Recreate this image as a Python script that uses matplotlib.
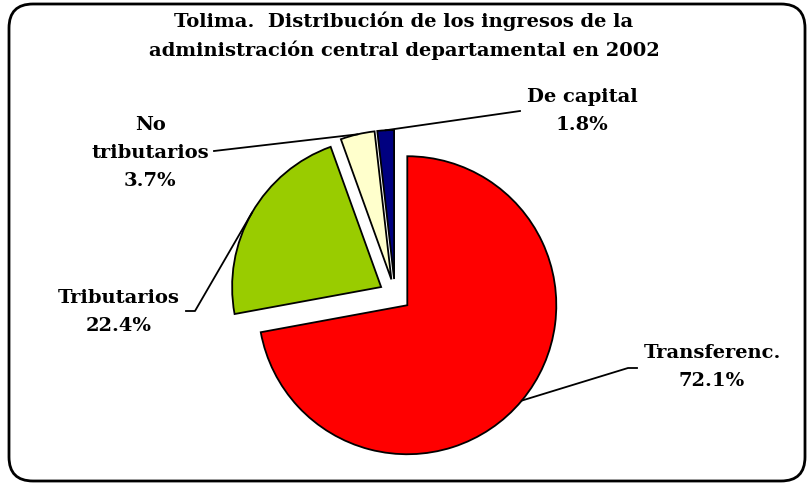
import numpy as np
import matplotlib
matplotlib.use('Agg')
import matplotlib.pyplot as plt
from matplotlib.patches import FancyBboxPatch

# ===========================================================
# Données
# ===========================================================
categorias = ['Transferenc.', 'Tributarios', 'No\ntributarios', 'De capital']
valores = [72.1, 22.4, 3.7, 1.8]
colores = ['#FF0000', '#99CC00', '#FFFFCC', '#000080']
titulo = 'Tolima.  Distribución de los ingresos de la\nadministración central departamental en 2002'

W, H = 808, 485


def py(y):
    # coordonnée pixel (origine en haut) -> données (origine en bas)
    return H - y


fig = plt.figure(figsize=(W / 100, H / 100), dpi=100)
ax = fig.add_axes([0, 0, 1, 1])

# cadre arrondi
cadre = FancyBboxPatch((9, py(482)), 796, 477, boxstyle='round,pad=0,rounding_size=24',
                       fc='white', ec='black', lw=2.0, zorder=0)
ax.add_patch(cadre)

# ===========================================================
# Camembert
# ===========================================================
centre = (395, py(296))
rayon = 149
eclat = 16
wedges, _ = ax.pie(valores, colors=colores, startangle=90, counterclock=False,
                   radius=rayon, center=centre, explode=[eclat] * len(valores),
                   wedgeprops=dict(edgecolor='black', linewidth=1.3), frame=True)
ax.set_xlim(0, W)
ax.set_ylim(0, H)
ax.set_aspect('auto')
ax.axis('off')

police = dict(family='DejaVu Serif', fontweight='bold', fontsize=14)

# position des étiquettes et coude des lignes de rappel (mise en page)
pos_texte = [(712, 367), (119, 312), (150, 153), (582, 111)]
coudes = [[(628, 369), (637, 369)], [(195, 312), (186, 312)],
          [(214, 152)], [(520, 112)]]

for w, cat, v, (tx, ty), coude in zip(wedges, categorias, valores, pos_texte, coudes):
    ang = np.deg2rad((w.theta1 + w.theta2) / 2)
    cx, cy = w.center
    ax_ = cx + w.r * np.cos(ang)
    ay_ = cy + w.r * np.sin(ang)
    xs = [ax_] + [c[0] for c in coude]
    ys = [ay_] + [py(c[1]) for c in coude]
    ax.plot(xs, ys, color='black', lw=1.3, zorder=1)
    ax.text(tx, py(ty), f'{cat}\n{v:.1f}%', ha='center', va='center',
            linespacing=1.75, **police)

ax.text(W / 2, py(36), titulo, ha='center', va='center', linespacing=1.6,
        family='DejaVu Serif', fontweight='bold', fontsize=14)

fig.savefig('out.png', dpi=100)
